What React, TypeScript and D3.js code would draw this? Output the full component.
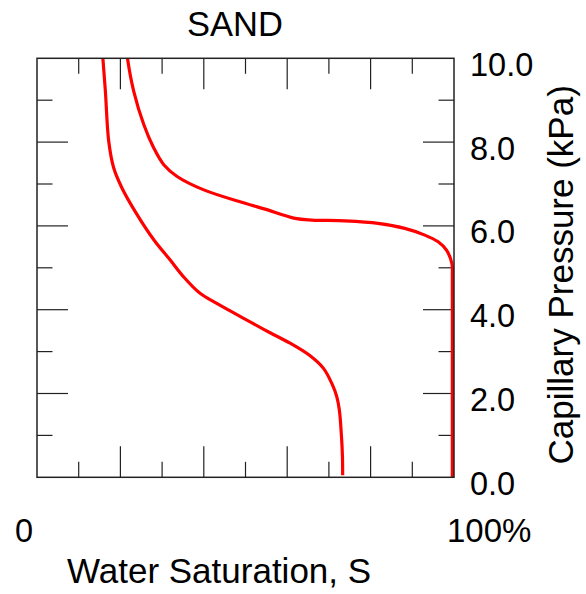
import React, { useEffect, useRef } from 'react';
import * as d3 from 'd3';

// [water saturation %, capillary pressure kPa], read top to bottom
const wettingCurve: [number, number][] = [
   [15.6, 10.3], [15.8, 10.0], [16.4, 9.21], [17.2, 8.02], [18.4, 7.38], [20.4, 6.9],
   [24.0, 6.27], [28.0, 5.67], [31.9, 5.19], [35.1, 4.79], [39.1, 4.39],
   [43.1, 4.15], [51.1, 3.71], [55.9, 3.45], [60.7, 3.2], [65.5, 2.9],
   [68.7, 2.6], [70.7, 2.24], [71.9, 1.92], [72.5, 1.61], [73.0, 1.0],
   [73.25, 0.5], [73.3, 0.05],
];

const dryingCurve: [number, number][] = [
   [21.4, 10.3], [21.7, 10.0], [23.2, 9.21], [25.6, 8.42], [28.0, 7.86], [30.4, 7.46],
   [33.6, 7.18], [40.0, 6.86], [49.9, 6.54], [54.7, 6.4], [61.9, 6.18],
   [65.9, 6.14], [73.9, 6.12], [81.8, 6.06], [88.2, 5.94], [93.0, 5.78],
   [96.2, 5.62], [98.2, 5.42], [99.5, 5.1], [99.6, 4.8], [99.6, 2.5], [99.6, 0],
];

const yTickLabels = [0, 2, 4, 6, 8, 10];
const xTicks = [10, 20, 30, 40, 50, 60, 70, 80, 90];
const yTicks = [1, 2, 3, 4, 5, 6, 7, 8, 9];

const width = 586;
const height = 594;
const font = '"Liberation Sans", Arial, sans-serif';

const App: React.FC = () => {
   const svgRef = useRef<SVGSVGElement | null>(null);

   useEffect(() => {
      if (!svgRef.current) return;
      const svg = d3.select(svgRef.current);
      svg.selectAll('*').remove();

      const left = 37, right = 454, top = 58.3, bottom = 477.3;

      const x = d3.scaleLinear().domain([0, 100]).range([left, right]);
      const y = d3.scaleLinear().domain([0, 10]).range([bottom, top]);

      svg.append('defs')
         .append('clipPath')
         .attr('id', 'plot-clip')
         .append('rect')
         .attr('x', left)
         .attr('y', top)
         .attr('width', right - left)
         .attr('height', bottom - top);

      // ticks, pointing inward on all four sides
      const tickLen = (major: boolean) => (major ? 31 : 15.5);
      const ticks = svg.append('g').attr('stroke', '#222').attr('stroke-width', 1.2);
      xTicks.forEach(t => {
         const len = tickLen(t % 20 === 0);
         ticks.append('line').attr('x1', x(t)).attr('x2', x(t)).attr('y1', bottom).attr('y2', bottom - len);
         ticks.append('line').attr('x1', x(t)).attr('x2', x(t)).attr('y1', top).attr('y2', top + len);
      });
      yTicks.forEach(t => {
         const len = tickLen(t % 2 === 0);
         ticks.append('line').attr('x1', left).attr('x2', left + len).attr('y1', y(t)).attr('y2', y(t));
         ticks.append('line').attr('x1', right).attr('x2', right - len).attr('y1', y(t)).attr('y2', y(t));
      });

      const line = d3.line<[number, number]>()
         .x(d => x(d[0]))
         .y(d => y(d[1]))
         .curve(d3.curveCatmullRom.alpha(0.5));

      const curves = svg.append('g').attr('clip-path', 'url(#plot-clip)');
      [wettingCurve, dryingCurve].forEach(c => {
         curves.append('path')
            .datum(c)
            .attr('d', line)
            .attr('fill', 'none')
            .attr('stroke', '#ff0000')
            .attr('stroke-width', 3.2);
      });

      svg.append('rect')
         .attr('x', left)
         .attr('y', top)
         .attr('width', right - left)
         .attr('height', bottom - top)
         .attr('fill', 'none')
         .attr('stroke', '#222')
         .attr('stroke-width', 1.5);

      const text = svg.append('g').attr('font-family', font).attr('fill', 'black');

      text.selectAll('.ylab')
         .data(yTickLabels)
         .enter()
         .append('text')
         .attr('x', right + 16)
         .attr('y', d => y(d) + 17.4)
         .attr('font-size', 32.5)
         .text(d => d.toFixed(1));

      text.append('text')
         .attr('x', x(0) - 4)
         .attr('y', 542)
         .attr('text-anchor', 'end')
         .attr('font-size', 32.5)
         .text('0');

      text.append('text')
         .attr('x', x(100) - 7)
         .attr('y', 542)
         .attr('font-size', 33)
         .text('100%');

      text.append('text')
         .attr('x', 67)
         .attr('y', 583)
         .attr('font-size', 35)
         .text('Water Saturation, S');

      text.append('text')
         .attr('x', 235)
         .attr('y', 36)
         .attr('text-anchor', 'middle')
         .attr('font-size', 34.5)
         .text('SAND');

      text.append('text')
         .attr('transform', `translate(573, ${(top + bottom) / 2 + 7}) rotate(-90)`)
         .attr('text-anchor', 'middle')
         .attr('font-size', 35)
         .text('Capillary Pressure (kPa)');
   }, []);

   return (
      <svg
         ref={svgRef}
         width={width}
         height={height}
         viewBox={`0 0 ${width} ${height}`}
         style={{ position: 'absolute', left: 0, top: 0, background: 'white' }}
      />
   );
};

export default App;
